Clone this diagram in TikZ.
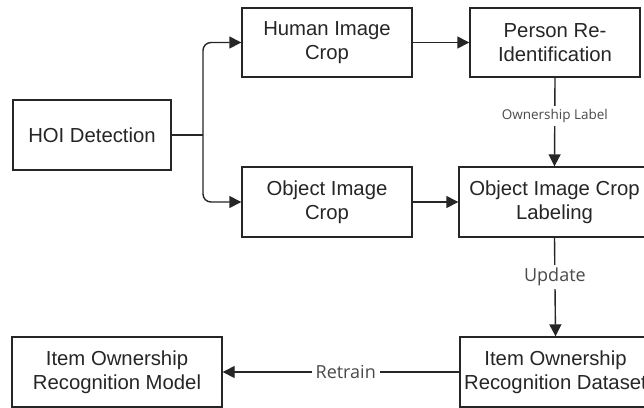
\documentclass[tikz,border=0pt]{standalone}
\usepackage{fontspec}
\setmainfont{Liberation Sans}
\newfontfamily\labelfont{Open Sans}
\usetikzlibrary{arrows.meta}
\definecolor{ink}{HTML}{262626}
\definecolor{lbl}{HTML}{4A4A4A}
\tikzset{
  box/.style={draw=ink, line width=1.4pt, fill=white, align=center,
    font=\fontsize{20.3}{23.5}\selectfont, text=ink, inner sep=0pt},
  boxtext/.style={align=center, font=\fontsize{20.3}{23.5}\selectfont,
    text=ink, inner sep=0pt},
  flow/.style={draw=ink, line width=1.4pt,
    -{Triangle[length=12pt,width=12pt]}},
  edgetext/.style={fill=white, text=lbl, inner xsep=4pt, inner ysep=3pt}
}
\begin{document}
\begin{tikzpicture}[x=1pt,y=-1pt]
\clip (0,0) rectangle (644,407);
\fill[white] (0,0) rectangle (644,407);

% process boxes
\node[box, minimum width=158pt, minimum height=70pt] (hoi) at (92,135) {HOI Detection};
\node[box, minimum width=170pt, minimum height=69pt] (human) at (327,42.5) {Human Image\\Crop};
\node[box, minimum width=170pt, minimum height=70pt] (object) at (327,202) {Object Image\\Crop};
\node[box, minimum width=170pt, minimum height=69pt] (reid) at (555,42.5) {Person Re-\\Identification};
\node[box, minimum width=191pt, minimum height=70pt] (label) at (554.5,202) {Object Image Crop\\Labeling};
% the dataset caption is wider than its box, so it is set on top of an empty frame
\node[box, minimum width=191pt, minimum height=70pt] (dataset) at (555.5,372) {};
\node[boxtext] (datasettext) at (dataset.center) {Item Ownership\\Recognition Dataset};
\node[box, minimum width=210pt, minimum height=70pt] (model) at (117,372) {Item Ownership\\Recognition Model};

% branching from detection
\coordinate (split) at (203,135);
\draw[draw=ink, line width=1.4pt] (hoi.east) -- (split);
\draw[flow, rounded corners=8pt] (split) |- (human.west);
\draw[flow, rounded corners=8pt] (split) |- (object.west);

% main flow
\draw[flow] (human.east) -- (reid.west);
\draw[flow] (object.east) -- (label.west);
\draw[flow] (reid.south) -- node[edgetext, font=\labelfont\fontsize{13.5}{15}\selectfont, pos=0.43] {Ownership Label} (label.north);
\draw[flow] (label.south) -- node[edgetext, font=\labelfont\fontsize{18}{20}\selectfont, pos=0.4] {Update} (dataset.north);
\draw[flow] (dataset.west) -- node[edgetext, font=\labelfont\fontsize{18}{20}\selectfont, pos=0.48] {Retrain} (model.east);
\end{tikzpicture}
\end{document}
